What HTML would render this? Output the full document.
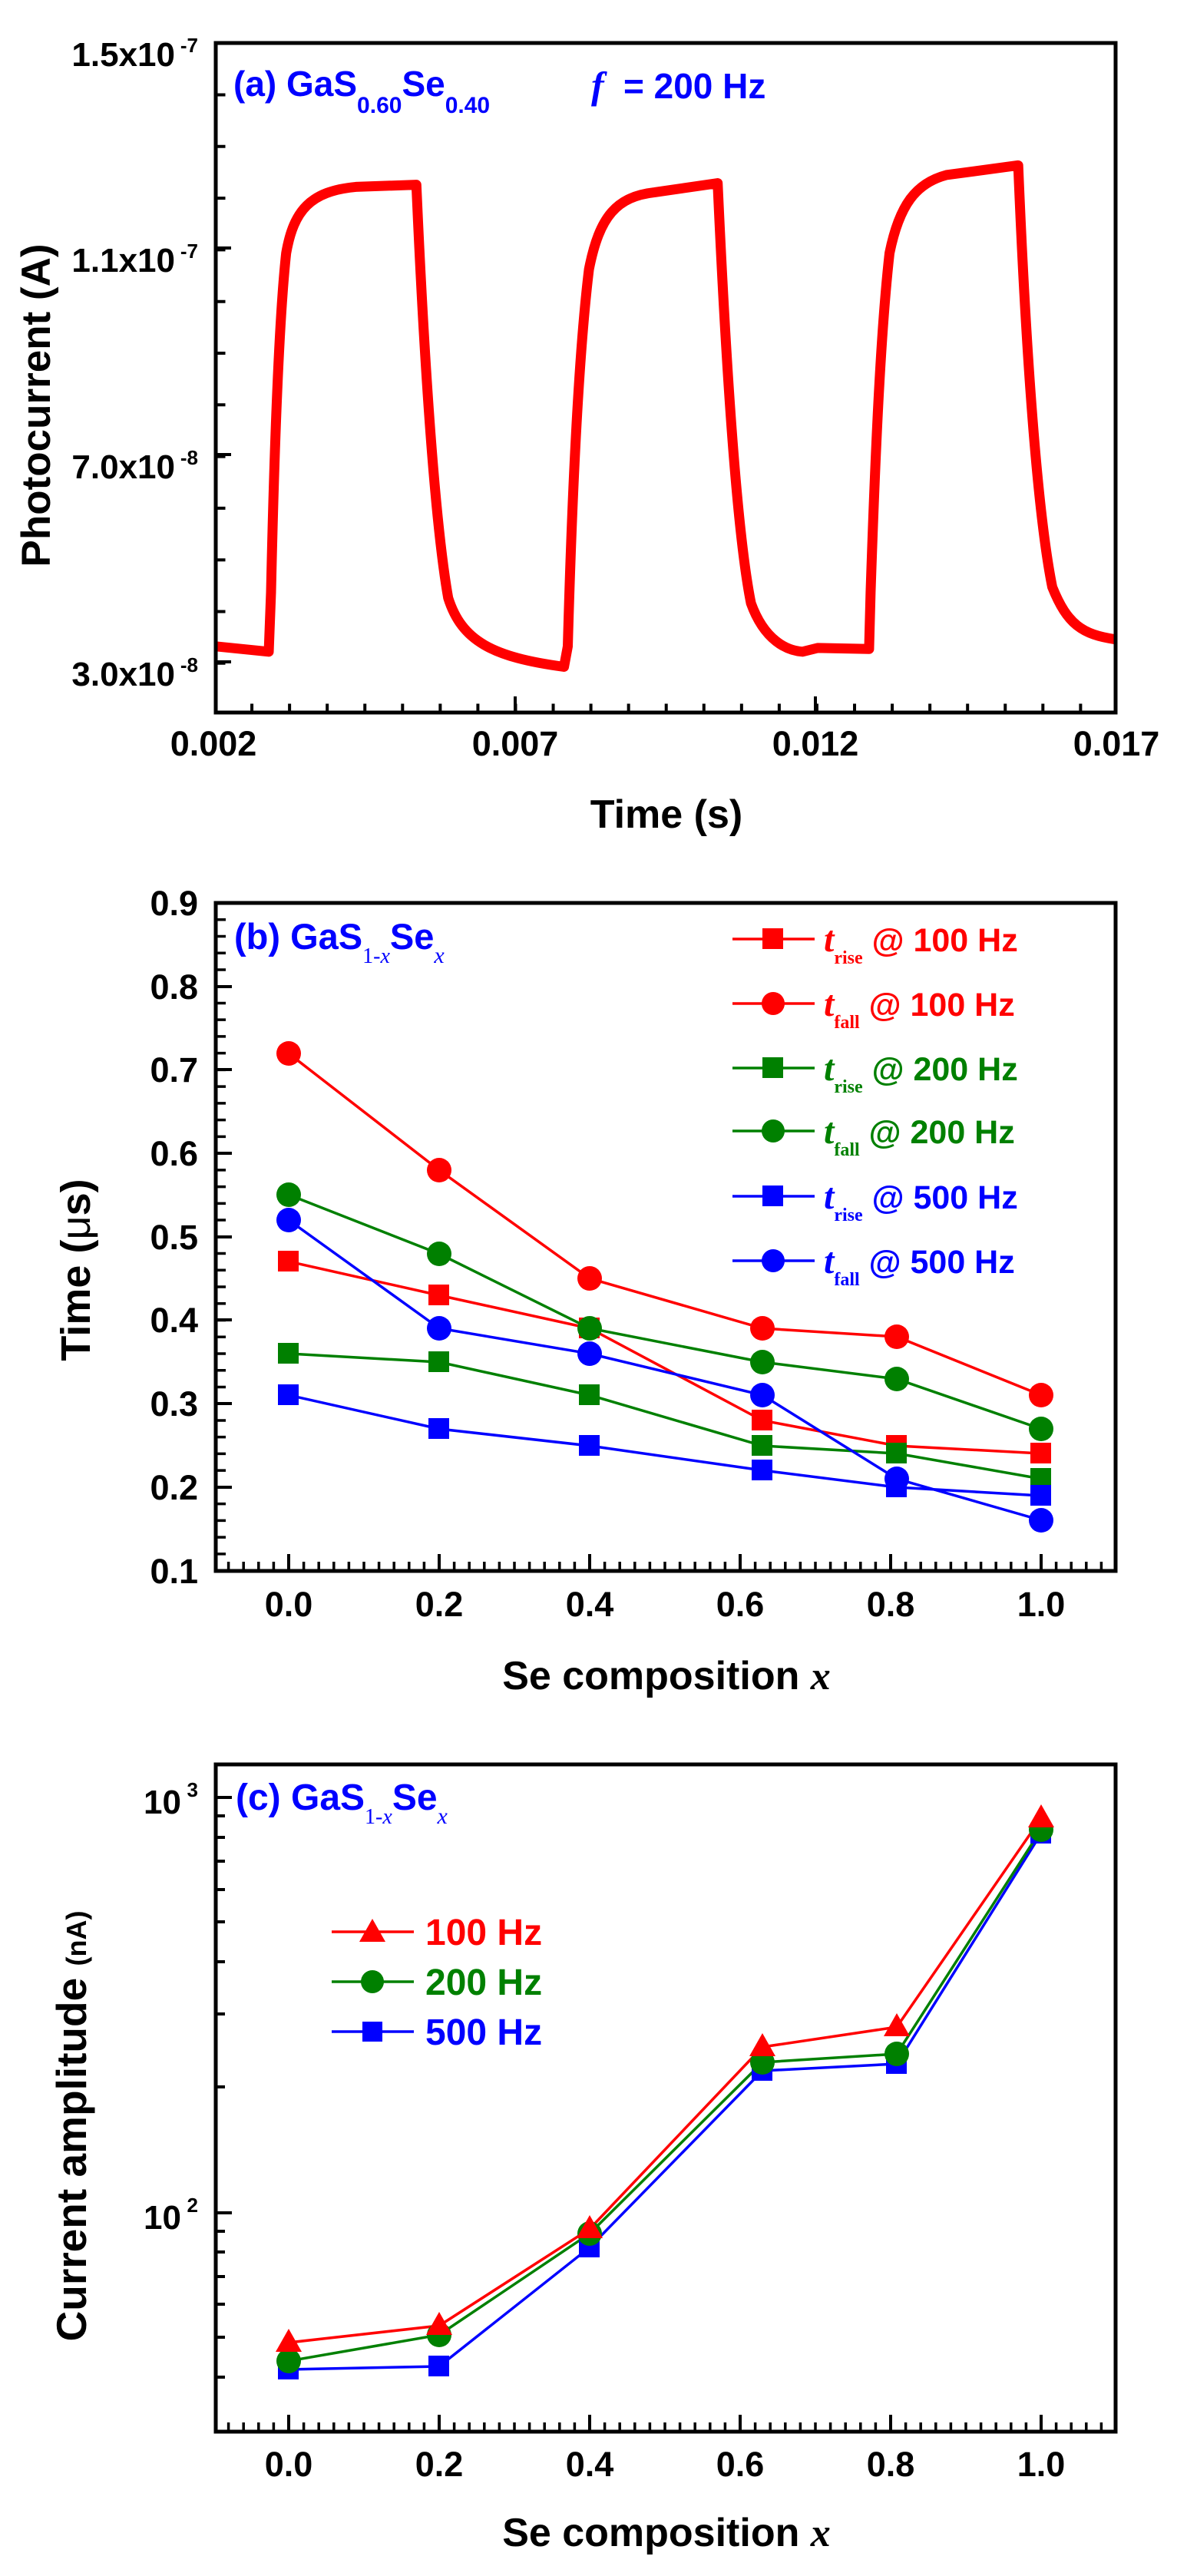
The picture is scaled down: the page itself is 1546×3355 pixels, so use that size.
<!DOCTYPE html>
<html><head><meta charset="utf-8"><style>html,body{margin:0;padding:0;background:#fff}svg{display:block}</style></head>
<body>
<svg width="1546" height="3355" viewBox="0 0 1546 3355" xmlns="http://www.w3.org/2000/svg" font-family="'Liberation Sans', Arial, sans-serif" font-weight="bold">
<rect width="1546" height="3355" fill="#fff"/>

<!-- ============ PANEL A ============ -->
<g transform="scale(0.986,0.7015)">
<path vector-effect="non-scaling-stroke" fill="none" stroke="#ff0000" stroke-width="13" stroke-linejoin="round"
d="M285,1200 L355,1210 L358,1100 C362,850 368,600 378,470 C388,390 410,355 470,347 L550,343
C558,600 572,950 592,1110 C610,1190 650,1220 745,1238
L750,1200 C756,900 765,650 778,500 C792,400 815,365 865,357 L948,340
C958,650 972,980 992,1120 C1010,1190 1040,1208 1060,1210 L1080,1203 L1148,1205
L1150,1100 C1156,850 1163,620 1175,470 C1188,380 1210,340 1250,325 L1345,307
C1355,650 1370,950 1390,1090 C1410,1160 1430,1178 1473,1187"/>
</g>
<!-- box a -->
<rect x="281" y="56" width="1172" height="872" fill="none" stroke="#000" stroke-width="5"/>
<line x1="283" y1="56" x2="283" y2="928" stroke="#000" stroke-width="11" stroke-dasharray="4 63.3" stroke-dashoffset="-65.5" transform="translate(5,0)"/>
<g stroke="#000" stroke-width="4">
<line x1="281" y1="323" x2="301" y2="323"/><line x1="281" y1="592" x2="301" y2="592"/><line x1="281" y1="862" x2="301" y2="862"/>
<line x1="671" y1="928" x2="671" y2="907"/><line x1="1062" y1="928" x2="1062" y2="907"/>
</g>
<line x1="279" y1="922" x2="1454" y2="922" stroke="#000" stroke-width="11" stroke-dasharray="4 45.06" stroke-dashoffset="2"/>
<g font-size="44" text-anchor="end">
<text x="228" y="86">1.5x10</text><text x="258" y="68" font-size="26">-7</text>
<text x="228" y="354">1.1x10</text><text x="258" y="336" font-size="26">-7</text>
<text x="228" y="623">7.0x10</text><text x="258" y="605" font-size="26">-8</text>
<text x="228" y="893">3.0x10</text><text x="258" y="875" font-size="26">-8</text>
</g>
<g font-size="45" text-anchor="middle">
<text x="278" y="984">0.002</text><text x="671" y="984">0.007</text><text x="1062" y="984">0.012</text><text x="1454" y="984">0.017</text>
</g>
<text x="868" y="1078" font-size="52" text-anchor="middle">Time (s)</text>
<text transform="translate(65,528) rotate(-90)" font-size="53" text-anchor="middle">Photocurrent (A)</text>
<text x="304" y="125" font-size="46" fill="#0000ff">(a) GaS<tspan font-size="30" dy="22">0.60</tspan><tspan dy="-22">Se</tspan><tspan font-size="30" dy="22">0.40</tspan></text>
<text x="770" y="128" font-size="50" fill="#0000ff" font-family="'Liberation Serif', serif" font-style="italic">f</text>
<text x="812" y="128" font-size="46" fill="#0000ff">= 200 Hz</text>

<!-- ============ PANEL B ============ -->
<rect x="281" y="1176" width="1172" height="870" fill="none" stroke="#000" stroke-width="5"/>
<line x1="288" y1="1176" x2="288" y2="2046" stroke="#000" stroke-width="12" stroke-dasharray="3.5 18.24" stroke-dashoffset="1.75"/>
<line x1="279" y1="2040" x2="1454" y2="2040" stroke="#000" stroke-width="12" stroke-dasharray="3.5 16.1" stroke-dashoffset="-16.85"/>
<g stroke="#000" stroke-width="4">
<line x1="281" y1="1285" x2="302" y2="1285"/><line x1="281" y1="1393" x2="302" y2="1393"/><line x1="281" y1="1502" x2="302" y2="1502"/><line x1="281" y1="1611" x2="302" y2="1611"/><line x1="281" y1="1719" x2="302" y2="1719"/><line x1="281" y1="1828" x2="302" y2="1828"/><line x1="281" y1="1937" x2="302" y2="1937"/>
<line x1="376" y1="2046" x2="376" y2="2024"/><line x1="572" y1="2046" x2="572" y2="2024"/><line x1="768" y1="2046" x2="768" y2="2024"/><line x1="964" y1="2046" x2="964" y2="2024"/><line x1="1160" y1="2046" x2="1160" y2="2024"/><line x1="1356" y1="2046" x2="1356" y2="2024"/>
</g>
<g font-size="45" text-anchor="end">
<text x="258" y="1192">0.9</text><text x="258" y="1301">0.8</text><text x="258" y="1409">0.7</text><text x="258" y="1518">0.6</text><text x="258" y="1627">0.5</text><text x="258" y="1735">0.4</text><text x="258" y="1844">0.3</text><text x="258" y="1953">0.2</text><text x="258" y="2062">0.1</text>
</g>
<g font-size="45" text-anchor="middle">
<text x="376" y="2105">0.0</text><text x="572" y="2105">0.2</text><text x="768" y="2105">0.4</text><text x="964" y="2105">0.6</text><text x="1160" y="2105">0.8</text><text x="1356" y="2105">1.0</text>
</g>
<text x="868" y="2200" font-size="52" text-anchor="middle">Se composition <tspan font-family="'Liberation Serif', serif" font-style="italic">x</tspan></text>
<text transform="translate(117,1654) rotate(-90)" font-size="54" text-anchor="middle">Time (<tspan font-weight="normal">μ</tspan>s)</text>
<text x="305" y="1236" font-size="47" fill="#0000ff">(b) GaS<tspan font-family="'Liberation Serif', serif" font-size="28" font-weight="normal" dy="18">1-<tspan font-style="italic">x</tspan></tspan><tspan dy="-18">Se</tspan><tspan font-family="'Liberation Serif', serif" font-style="italic" font-size="30" font-weight="normal" dy="18">x</tspan></text>

<g stroke-width="3.5" fill="none">
<polyline stroke="#ff0000" points="376,1643 572,1687 768,1730 993,1850 1168,1883 1356,1893"/>
<polyline stroke="#ff0000" points="376,1372 572,1524 768,1665 993,1730 1168,1741 1356,1817"/>
<polyline stroke="#008000" points="376,1763 572,1774 768,1817 993,1883 1168,1893 1356,1926"/>
<polyline stroke="#008000" points="376,1556 572,1633 768,1730 993,1774 1168,1796 1356,1861"/>
<polyline stroke="#0000ff" points="376,1817 572,1861 768,1883 993,1915 1168,1937 1356,1948"/>
<polyline stroke="#0000ff" points="376,1589 572,1730 768,1763 993,1817 1168,1926 1356,1980"/>
</g>
<g fill="#ff0000">
<rect x="362" y="1629" width="27" height="27"/><rect x="558" y="1673" width="27" height="27"/><rect x="754" y="1716" width="27" height="27"/><rect x="979" y="1836" width="27" height="27"/><rect x="1154" y="1869" width="27" height="27"/><rect x="1342" y="1879" width="27" height="27"/>
<circle cx="376" cy="1372" r="16"/><circle cx="572" cy="1524" r="16"/><circle cx="768" cy="1665" r="16"/><circle cx="993" cy="1730" r="16"/><circle cx="1168" cy="1741" r="16"/><circle cx="1356" cy="1817" r="16"/>
</g>
<g fill="#008000">
<rect x="362" y="1749" width="27" height="27"/><rect x="558" y="1760" width="27" height="27"/><rect x="754" y="1803" width="27" height="27"/><rect x="979" y="1869" width="27" height="27"/><rect x="1154" y="1879" width="27" height="27"/><rect x="1342" y="1912" width="27" height="27"/>
<circle cx="376" cy="1556" r="16"/><circle cx="572" cy="1633" r="16"/><circle cx="768" cy="1730" r="16"/><circle cx="993" cy="1774" r="16"/><circle cx="1168" cy="1796" r="16"/><circle cx="1356" cy="1861" r="16"/>
</g>
<g fill="#0000ff">
<rect x="362" y="1803" width="27" height="27"/><rect x="558" y="1847" width="27" height="27"/><rect x="754" y="1869" width="27" height="27"/><rect x="979" y="1901" width="27" height="27"/><rect x="1154" y="1923" width="27" height="27"/><rect x="1342" y="1934" width="27" height="27"/>
<circle cx="376" cy="1589" r="16"/><circle cx="572" cy="1730" r="16"/><circle cx="768" cy="1763" r="16"/><circle cx="993" cy="1817" r="16"/><circle cx="1168" cy="1926" r="16"/><circle cx="1356" cy="1980" r="16"/>
</g>
<g stroke-width="3.5">
<line x1="954" y1="1223" x2="1061" y2="1223" stroke="#ff0000"/><line x1="954" y1="1307" x2="1061" y2="1307" stroke="#ff0000"/>
<line x1="954" y1="1391" x2="1061" y2="1391" stroke="#008000"/><line x1="954" y1="1473" x2="1061" y2="1473" stroke="#008000"/>
<line x1="954" y1="1558" x2="1061" y2="1558" stroke="#0000ff"/><line x1="954" y1="1642" x2="1061" y2="1642" stroke="#0000ff"/>
</g>
<rect x="993" y="1209" width="27" height="27" fill="#ff0000"/><circle cx="1007" cy="1307" r="15" fill="#ff0000"/>
<rect x="993" y="1377" width="27" height="27" fill="#008000"/><circle cx="1007" cy="1473" r="15" fill="#008000"/>
<rect x="993" y="1544" width="27" height="27" fill="#0000ff"/><circle cx="1007" cy="1642" r="15" fill="#0000ff"/>
<g font-size="43">
<text x="1073" y="1239" fill="#ff0000"><tspan font-family="'Liberation Serif', serif" font-style="italic" font-size="48">t</tspan><tspan font-family="'Liberation Serif', serif" font-size="24" dy="16">rise</tspan><tspan dy="-16"> @ 100 Hz</tspan></text>
<text x="1073" y="1323" fill="#ff0000"><tspan font-family="'Liberation Serif', serif" font-style="italic" font-size="48">t</tspan><tspan font-family="'Liberation Serif', serif" font-size="24" dy="16">fall</tspan><tspan dy="-16"> @ 100 Hz</tspan></text>
<text x="1073" y="1407" fill="#008000"><tspan font-family="'Liberation Serif', serif" font-style="italic" font-size="48">t</tspan><tspan font-family="'Liberation Serif', serif" font-size="24" dy="16">rise</tspan><tspan dy="-16"> @ 200 Hz</tspan></text>
<text x="1073" y="1489" fill="#008000"><tspan font-family="'Liberation Serif', serif" font-style="italic" font-size="48">t</tspan><tspan font-family="'Liberation Serif', serif" font-size="24" dy="16">fall</tspan><tspan dy="-16"> @ 200 Hz</tspan></text>
<text x="1073" y="1574" fill="#0000ff"><tspan font-family="'Liberation Serif', serif" font-style="italic" font-size="48">t</tspan><tspan font-family="'Liberation Serif', serif" font-size="24" dy="16">rise</tspan><tspan dy="-16"> @ 500 Hz</tspan></text>
<text x="1073" y="1658" fill="#0000ff"><tspan font-family="'Liberation Serif', serif" font-style="italic" font-size="48">t</tspan><tspan font-family="'Liberation Serif', serif" font-size="24" dy="16">fall</tspan><tspan dy="-16"> @ 500 Hz</tspan></text>
</g>

<!-- ============ PANEL C ============ -->
<rect x="281" y="2298" width="1172" height="869" fill="none" stroke="#000" stroke-width="5"/>
<line x1="279" y1="3161" x2="1454" y2="3161" stroke="#000" stroke-width="12" stroke-dasharray="3.5 16.1" stroke-dashoffset="-16.85"/>
<g stroke="#000" stroke-width="4">
<line x1="281" y1="2341" x2="302" y2="2341"/><line x1="281" y1="2882" x2="302" y2="2882"/>
<line x1="281" y1="2365" x2="293" y2="2365"/><line x1="281" y1="2393" x2="293" y2="2393"/><line x1="281" y1="2424" x2="293" y2="2424"/><line x1="281" y1="2461" x2="293" y2="2461"/><line x1="281" y1="2503" x2="293" y2="2503"/><line x1="281" y1="2555" x2="293" y2="2555"/><line x1="281" y1="2623" x2="293" y2="2623"/><line x1="281" y1="2718" x2="293" y2="2718"/>
<line x1="281" y1="2906" x2="293" y2="2906"/><line x1="281" y1="2933" x2="293" y2="2933"/><line x1="281" y1="2965" x2="293" y2="2965"/><line x1="281" y1="3001" x2="293" y2="3001"/><line x1="281" y1="3044" x2="293" y2="3044"/><line x1="281" y1="3096" x2="293" y2="3096"/>
<line x1="376" y1="3167" x2="376" y2="3145"/><line x1="572" y1="3167" x2="572" y2="3145"/><line x1="768" y1="3167" x2="768" y2="3145"/><line x1="964" y1="3167" x2="964" y2="3145"/><line x1="1160" y1="3167" x2="1160" y2="3145"/><line x1="1356" y1="3167" x2="1356" y2="3145"/>
</g>
<g font-size="44" text-anchor="end">
<text x="236" y="2362">10</text><text x="258" y="2340" font-size="26">3</text>
<text x="236" y="2903">10</text><text x="258" y="2881" font-size="26">2</text>
</g>
<g font-size="45" text-anchor="middle">
<text x="376" y="3225">0.0</text><text x="572" y="3225">0.2</text><text x="768" y="3225">0.4</text><text x="964" y="3225">0.6</text><text x="1160" y="3225">0.8</text><text x="1356" y="3225">1.0</text>
</g>
<text x="868" y="3316" font-size="52" text-anchor="middle">Se composition <tspan font-family="'Liberation Serif', serif" font-style="italic">x</tspan></text>
<text transform="translate(112,2769) rotate(-90)" font-size="55" text-anchor="middle">Current amplitude <tspan font-size="36">(nA)</tspan></text>
<text x="307" y="2357" font-size="48" fill="#0000ff">(c) GaS<tspan font-family="'Liberation Serif', serif" font-size="28" font-weight="normal" dy="18">1-<tspan font-style="italic">x</tspan></tspan><tspan dy="-18">Se</tspan><tspan font-family="'Liberation Serif', serif" font-style="italic" font-size="30" font-weight="normal" dy="18">x</tspan></text>

<g stroke-width="3.5" fill="none">
<polyline stroke="#0000ff" points="376,3086 572,3082 768,2927 993,2697 1168,2688 1356,2388"/>
<polyline stroke="#008000" points="376,3075 572,3041 768,2909 993,2686 1168,2675 1356,2383"/>
<polyline stroke="#ff0000" points="376,3051 572,3029 768,2903 993,2666 1168,2640 1356,2368"/>
</g>
<g fill="#0000ff">
<rect x="362" y="3072" width="27" height="27"/><rect x="558" y="3068" width="27" height="27"/><rect x="754" y="2913" width="27" height="27"/><rect x="979" y="2683" width="27" height="27"/><rect x="1154" y="2674" width="27" height="27"/><rect x="1342" y="2374" width="27" height="27"/>
</g>
<g fill="#008000">
<circle cx="376" cy="3075" r="16"/><circle cx="572" cy="3041" r="16"/><circle cx="768" cy="2909" r="16"/><circle cx="993" cy="2686" r="16"/><circle cx="1168" cy="2675" r="16"/><circle cx="1356" cy="2383" r="16"/>
</g>
<g fill="#ff0000">
<polygon points="376,3033 393,3063 359,3063"/><polygon points="572,3011 589,3041 555,3041"/><polygon points="768,2885 785,2915 751,2915"/><polygon points="993,2648 1010,2678 976,2678"/><polygon points="1168,2622 1185,2652 1151,2652"/><polygon points="1356,2350 1373,2380 1339,2380"/>
</g>
<g stroke-width="3.5">
<line x1="432" y1="2516" x2="539" y2="2516" stroke="#ff0000"/>
<line x1="432" y1="2581" x2="539" y2="2581" stroke="#008000"/>
<line x1="432" y1="2646" x2="539" y2="2646" stroke="#0000ff"/>
</g>
<polygon points="485,2499 502,2529 468,2529" fill="#ff0000"/>
<circle cx="485" cy="2581" r="15" fill="#008000"/>
<rect x="472" y="2633" width="26" height="26" fill="#0000ff"/>
<g font-size="48">
<text x="554" y="2533" fill="#ff0000">100 Hz</text>
<text x="554" y="2598" fill="#008000">200 Hz</text>
<text x="554" y="2663" fill="#0000ff">500 Hz</text>
</g>
</svg>
</body></html>
